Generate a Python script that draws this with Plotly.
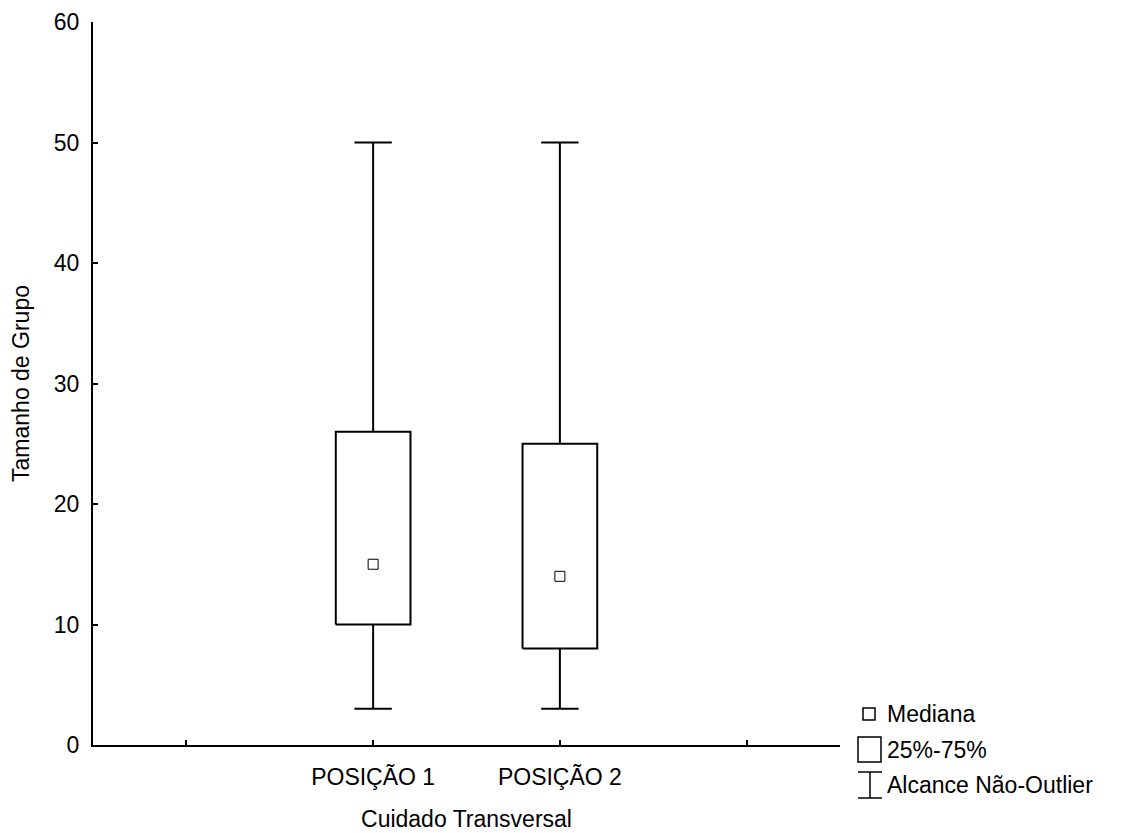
import plotly.graph_objects as go

categories = ["POSIÇÃO 1", "POSIÇÃO 2"]
positions = [1, 2]
medians = [15, 14]
q1 = [10, 8]
q3 = [26, 25]
whisker_low = [3, 3]
whisker_high = [50, 50]

y_ticks = [0, 10, 20, 30, 40, 50, 60]
x_tickvals = [0, 1, 2, 3]
x_ticktext = [""] + categories + [""]

BOX_HALF = 0.2
CAP_HALF = 0.1
FONT = "Liberation Sans, Arial, sans-serif"
FS = 23

OFF = 8  # default page body margin
W, H = 1130 - OFF, 833 - OFF
ML, MR, MT, MB = 93 - OFF, 290, 22 - OFF, 88
PW, PH = W - ML - MR, H - MT - MB

fig = go.Figure()

for p, lo, a, m, b, hi in zip(positions, whisker_low, q1, medians, q3, whisker_high):
    fig.add_trace(go.Scatter(
        x=[p - BOX_HALF, p + BOX_HALF, p + BOX_HALF, p - BOX_HALF, p - BOX_HALF],
        y=[a, a, b, b, a], mode="lines",
        line=dict(color="black", width=2), hoverinfo="skip", showlegend=False))
    fig.add_trace(go.Scatter(
        x=[p, p, None, p, p], y=[b, hi, None, a, lo], mode="lines",
        line=dict(color="black", width=2), hoverinfo="skip", showlegend=False))
    fig.add_trace(go.Scatter(
        x=[p - CAP_HALF, p + CAP_HALF, None, p - CAP_HALF, p + CAP_HALF],
        y=[hi, hi, None, lo, lo], mode="lines",
        line=dict(color="black", width=2), hoverinfo="skip", showlegend=False))
    fig.add_trace(go.Scatter(
        x=[p], y=[m], mode="markers",
        marker=dict(symbol="square-open", size=10, color="black", line=dict(width=1)),
        showlegend=False))


def px(xs):
    # screen pixel -> paper x
    return (xs - OFF - ML) / PW


def py(ys):
    # screen pixel -> paper y
    return (H - MB - (ys - OFF)) / PH


# Legend (custom, drawn in paper space)
shapes = [
    dict(type="rect", xref="paper", yref="paper", x0=px(863), x1=px(875), y0=py(720), y1=py(708),
         line=dict(color="black", width=1.5)),
    dict(type="rect", xref="paper", yref="paper", x0=px(858), x1=px(881), y0=py(762), y1=py(737),
         line=dict(color="black", width=1.5)),
    dict(type="line", xref="paper", yref="paper", x0=px(858), x1=px(882), y0=py(772), y1=py(772),
         line=dict(color="black", width=1.5)),
    dict(type="line", xref="paper", yref="paper", x0=px(870), x1=px(870), y0=py(772), y1=py(798),
         line=dict(color="black", width=1.5)),
    dict(type="line", xref="paper", yref="paper", x0=px(858), x1=px(882), y0=py(798), y1=py(798),
         line=dict(color="black", width=1.5)),
]
annotations = []
for label, yc in [("Mediana", 714), ("25%-75%", 750), ("Alcance Não-Outlier", 785)]:
    annotations.append(dict(text=label, xref="paper", yref="paper", x=px(885), y=py(yc),
                            xanchor="left", yanchor="middle", showarrow=False,
                            font=dict(family=FONT, size=FS, color="black")))

fig.update_layout(
    width=W, height=H,
    margin=dict(l=ML, r=MR, t=MT, b=MB, autoexpand=False),
    plot_bgcolor="white", paper_bgcolor="white",
    font=dict(family=FONT, size=FS, color="black"),
    shapes=shapes, annotations=annotations,
    xaxis=dict(range=[-0.5, 3.5], tickmode="array", tickvals=x_tickvals, ticktext=x_ticktext,
               showline=True, linecolor="black", linewidth=2, ticks="inside", ticklen=5,
               tickwidth=2, tickcolor="black", showgrid=False, zeroline=False, automargin=False,
               ticklabelstandoff=10, tickfont=dict(family=FONT, size=FS, color="black"),
               title=dict(text="Cuidado Transversal", standoff=22,
                          font=dict(family=FONT, size=FS, color="black"))),
    yaxis=dict(range=[0, 60], tickmode="array", tickvals=y_ticks,
               showline=True, linecolor="black", linewidth=2, ticks="inside", ticklen=5,
               tickwidth=2, tickcolor="black", showgrid=False, zeroline=False, automargin=False,
               ticklabelstandoff=7, tickfont=dict(family=FONT, size=FS, color="black"),
               title=dict(text="Tamanho de Grupo", standoff=19,
                          font=dict(family=FONT, size=FS, color="black"))),
)

fig.write_html("out.html")
